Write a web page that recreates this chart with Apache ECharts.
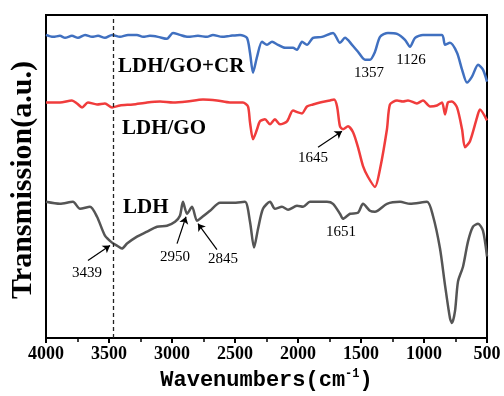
<!DOCTYPE html>
<html>
<head>
<meta charset="utf-8">
<script src="https://cdn.jsdelivr.net/npm/echarts@6/dist/echarts.min.js"></script>
<style>
  html, body { margin: 0; padding: 0; background: #fff; }
  #J_chartFtirBox { width: 504px; height: 396px; }
</style>
</head>
<body>
<div id="J_chartFtirBox"></div>
<script>
  // [wavenumber cm-1, transmission a.u.]
  var ldhGoCrData = [
    [4000, 305], [3944, 303], [3889, 304], [3849, 302], [3794, 304], [3746, 302], [3690, 305],
    [3635, 303], [3587, 304], [3532, 302], [3476, 305], [3413, 303], [3349, 305], [3278, 305],
    [3230, 303], [3175, 304], [3111, 303], [3040, 301], [2992, 307], [2937, 305], [2873, 303],
    [2794, 304], [2722, 303], [2675, 305], [2603, 303], [2540, 304], [2460, 305], [2405, 302],
    [2381, 287], [2357, 267], [2325, 283], [2286, 298], [2246, 295], [2206, 298], [2159, 295],
    [2103, 292], [2040, 292], [2008, 290], [1968, 298], [1929, 295], [1881, 302], [1810, 303],
    [1722, 307], [1667, 297], [1627, 302], [1571, 295], [1524, 288], [1468, 280], [1429, 280],
    [1389, 288], [1349, 303], [1286, 307], [1214, 306], [1151, 300], [1111, 293], [1071, 302],
    [1008, 305], [857, 305], [833, 295], [794, 297], [738, 287], [698, 270], [659, 257],
    [619, 263], [571, 275], [532, 270], [500, 258]
  ]
  var ldhGoData = [
    [4000, 237], [3889, 237], [3794, 239], [3754, 236], [3714, 232], [3667, 237], [3595, 235],
    [3532, 236], [3476, 232], [3413, 234], [3310, 235], [3198, 237], [3095, 238], [2992, 237],
    [2881, 238], [2754, 240], [2643, 239], [2540, 237], [2437, 237], [2397, 233], [2381, 217],
    [2357, 200], [2325, 210], [2302, 218], [2262, 220], [2222, 215], [2183, 220], [2143, 215],
    [2087, 218], [2040, 229], [2000, 227], [1968, 226], [1929, 233], [1881, 235], [1825, 237],
    [1746, 239], [1714, 240], [1690, 233], [1667, 213], [1643, 210], [1603, 213], [1563, 207],
    [1524, 192], [1484, 173], [1444, 162], [1389, 152], [1349, 170], [1294, 210], [1270, 235],
    [1214, 239], [1167, 238], [1127, 239], [1056, 236], [1008, 239], [952, 233], [897, 234],
    [857, 237], [833, 225], [810, 237], [778, 238], [738, 232], [698, 210], [675, 192],
    [635, 198], [579, 222], [556, 230], [500, 219]
  ]
  var ldhData = [
    [4000, 137], [3889, 135], [3786, 137], [3730, 130], [3651, 132], [3595, 122], [3532, 103],
    [3476, 96], [3437, 93], [3397, 90], [3357, 95], [3278, 102], [3198, 107], [3119, 112],
    [3040, 113], [2976, 117], [2937, 123], [2913, 137], [2881, 125], [2841, 132], [2802, 118],
    [2778, 120], [2698, 128], [2619, 136], [2516, 136], [2421, 137], [2381, 117], [2349, 91],
    [2317, 110], [2278, 130], [2222, 137], [2183, 130], [2127, 132], [2079, 129], [2008, 133],
    [1960, 132], [1905, 137], [1770, 137], [1722, 135], [1667, 125], [1643, 120], [1587, 125],
    [1524, 126], [1484, 135], [1429, 128], [1389, 127], [1294, 135], [1190, 137], [1111, 135],
    [976, 137], [929, 123], [873, 90], [833, 53], [794, 20], [778, 15], [754, 27], [730, 57],
    [690, 72], [651, 97], [611, 112], [571, 115], [532, 108], [500, 82]
  ]
  var seriesNames = ['LDH/GO+CR', 'LDH/GO', 'LDH']
  var peakLabels = ['1357', '1126', '1645', '1651', '3439', '2950', '2845']
  var dashedLineAt = 3468
  // arrows: [from, to] in data coords
  var arrows = [
    [[3667, 78], [3492, 93]],
    [[2960, 95], [2889, 122]],
    [[2643, 89], [2794, 115]],
    [[1841, 192], [1651, 208]]
  ]

  var serif = '"Times New Roman", "Liberation Serif", serif'

  function nameText (text, left, top) {
    return {
      type: 'text', x: left, y: top,
      style: { text: text, font: 'bold 21px ' + serif, fill: '#000', verticalAlign: 'middle' }
    }
  }
  function peakText (text, cx, cy) {
    return {
      type: 'text', x: cx, y: cy,
      style: { text: text, font: '15px ' + serif, fill: '#000', align: 'center', verticalAlign: 'middle' }
    }
  }

  var markLines = [
    [{ xAxis: dashedLineAt, yAxis: 0, lineStyle: { type: [4, 3], color: '#222', width: 1.3 } },
     { xAxis: dashedLineAt, yAxis: 325 }]
  ]
  arrows.forEach(function (a) {
    markLines.push([
      { coord: a[0], symbol: 'none', lineStyle: { type: 'solid', color: '#000', width: 1.2 } },
      { coord: a[1], symbol: 'arrow', symbolSize: 7 }
    ])
  })

  var lineBase = { type: 'line', showSymbol: false, smooth: 0.25, animation: false, silent: true }

  var option = {
    backgroundColor: '#fff',
    animation: false,
    grid: { left: 46, right: 17, top: 15, bottom: 56, show: true, borderColor: '#000', borderWidth: 2 },
    xAxis: {
      type: 'value', min: 500, max: 4000, interval: 500, inverse: true,
      name: '{a|Wavenumbers(cm}{s|-1}{a|)}',
      nameLocation: 'middle', nameGap: 30,
      nameTextStyle: {
        rich: {
          a: { fontFamily: '"Liberation Mono", monospace', fontWeight: 'bold', fontSize: 22, color: '#000' },
          s: { fontFamily: '"Liberation Mono", monospace', fontWeight: 'bold', fontSize: 12, color: '#000', verticalAlign: 'top', padding: [0, 0, 12, 0] }
        }
      },
      axisLine: { show: true, lineStyle: { color: '#000', width: 2 } },
      axisTick: { show: true, inside: false, length: 5, lineStyle: { color: '#000', width: 2 } },
      minorTick: { show: true, splitNumber: 2, length: 4, lineStyle: { color: '#000', width: 1.5 } },
      splitLine: { show: false },
      axisLabel: {
        color: '#000', fontFamily: serif, fontWeight: 'bold', fontSize: 18, margin: 7,
        formatter: function (v) { return String(v) }
      }
    },
    yAxis: {
      type: 'value', min: 0, max: 325,
      axisLine: { show: false }, axisTick: { show: false }, axisLabel: { show: false }, splitLine: { show: false }
    },
    graphic: [
      {
        type: 'text', x: 23, y: 180, rotation: Math.PI / 2,
        style: { text: 'Transmission(a.u.)', font: 'bold 30px ' + serif, fill: '#000', align: 'center', verticalAlign: 'middle' }
      },
      nameText(seriesNames[0], 118, 67),
      nameText(seriesNames[1], 122, 129),
      nameText(seriesNames[2], 123, 208),
      peakText(peakLabels[0], 369, 73),
      peakText(peakLabels[1], 411, 60),
      peakText(peakLabels[2], 313, 158),
      peakText(peakLabels[3], 341, 232),
      peakText(peakLabels[4], 87, 273),
      peakText(peakLabels[5], 175, 257),
      peakText(peakLabels[6], 223, 259)
    ],
    series: [
      Object.assign({}, lineBase, {
        name: seriesNames[0], data: ldhGoCrData,
        lineStyle: { color: '#4070C0', width: 2.5 }, itemStyle: { color: '#4070C0' }
      }),
      Object.assign({}, lineBase, {
        name: seriesNames[1], data: ldhGoData,
        lineStyle: { color: '#F03C3C', width: 2.5 }, itemStyle: { color: '#F03C3C' }
      }),
      Object.assign({}, lineBase, {
        name: seriesNames[2], data: ldhData,
        lineStyle: { color: '#555555', width: 2.5 }, itemStyle: { color: '#555555' },
        markLine: {
          silent: true, animation: false,
          symbol: ['none', 'none'],
          label: { show: false },
          data: markLines
        }
      })
    ]
  }

  var chartFtir = echarts.init(document.getElementById('J_chartFtirBox'))
  chartFtir.setOption(option)
  window.addEventListener('resize', function () {
    chartFtir.resize()
  })
</script>
</body>
</html>
